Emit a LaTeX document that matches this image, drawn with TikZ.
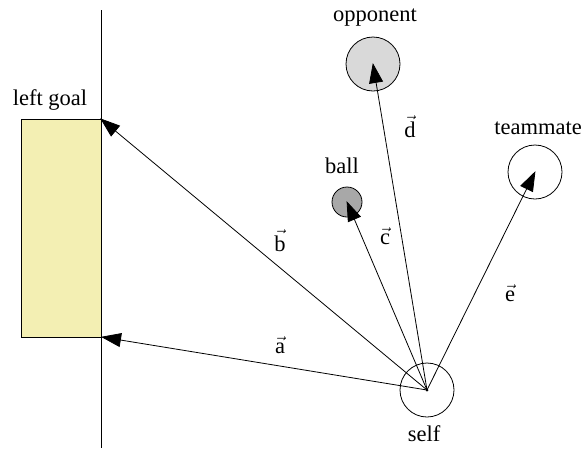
\documentclass[tikz,border=0pt]{standalone}
\usepackage{fontspec}
\setmainfont{Liberation Serif}
\newfontfamily\tnr{Liberation Serif}
\usetikzlibrary{arrows.meta}
\definecolor{goalfill}{HTML}{F3EFB3}
\definecolor{oppfill}{HTML}{D9D9D9}
\definecolor{ballfill}{HTML}{A8A8A8}
\tikzset{
  lbl/.style={font=\tnr\fontsize{22.5}{26}\selectfont, inner sep=0pt},
  vlbl/.style={font=\tnr\fontsize{22.5}{26}\selectfont, inner sep=0pt},
  obj/.style={circle, draw=black, line width=0.8pt, inner sep=0pt},
  vec/.style={line width=0.8pt, -{Triangle[length=20pt,width=14pt]}, shorten >=-1pt}
}
\begin{document}
\begin{tikzpicture}[x=1pt,y=-1pt]
\useasboundingbox (0,0) rectangle (584,448);
% goal
\fill[goalfill] (21,119) rectangle (101,337);
\draw[line width=0.8pt] (101,119) -- (21,119) -- (21,337) -- (101,337);
\draw[line width=0.8pt] (101,10) -- (101,448);
\coordinate (gtop) at (101,119);
\coordinate (gbot) at (102,337);
% objects
\node[obj, minimum size=54pt] (self) at (427,390) {};
\node[obj, minimum size=54pt, fill=oppfill] (opp) at (373,64) {};
\node[obj, minimum size=30pt, fill=ballfill] (ball) at (347,202) {};
\node[obj, minimum size=54pt] (team) at (535,172) {};
% labels
\node[lbl] (lgoal) at (50,100) {left goal};
\node[lbl] (lopp) at (375,18) {opponent};
\node[lbl] (lball) at (342,166) {ball};
\node[lbl] (lteam) at (538,128) {teammate};
\node[lbl] (lself) at (424,434) {self};
% vectors
\draw[vec] (self.center) -- (gbot);
\draw[vec] (self.center) -- (gtop);
\draw[vec] (self.center) -- (ball.center);
\draw[vec] (self.center) -- (opp.center);
\draw[vec] (self.center) -- (team.center);
\fill (self.center) circle (1.5pt);
% vector labels
\node[vlbl] (va) at (280,345) {$\vec{\mathrm{a}}$};
\node[vlbl] (vb) at (280,241) {$\vec{\mathrm{b}}$};
\node[vlbl] (vc) at (385,236) {$\vec{\mathrm{c}}$};
\node[vlbl] (vd) at (410,127) {$\vec{\mathrm{d}}$};
\node[vlbl] (ve) at (510,293) {$\vec{\mathrm{e}}$};
\end{tikzpicture}
\end{document}
